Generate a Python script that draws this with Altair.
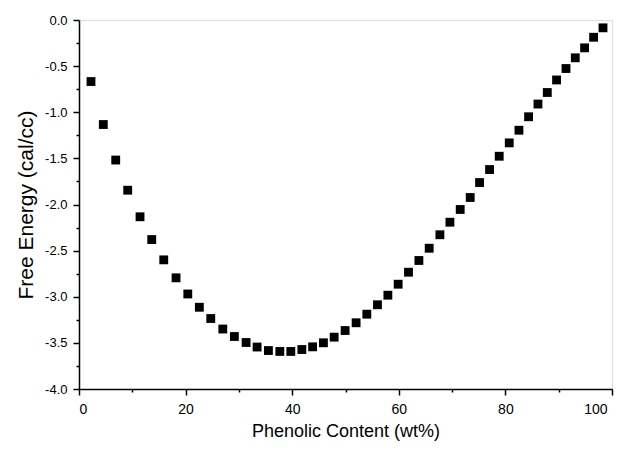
import altair as alt
import pandas as pd

phenolic_wt = [2.25, 4.56, 6.89, 9.14, 11.45, 13.65, 15.90, 18.21, 20.41, 22.58,
               24.72, 26.98, 29.15, 31.35, 33.41, 35.54, 37.68, 39.74, 41.81, 43.83,
               45.86, 47.87, 49.93, 51.99, 54.00, 56.00, 57.95, 59.88, 61.82, 63.77,
               65.70, 67.71, 69.59, 71.52, 73.40, 75.15, 77.03, 78.84, 80.72, 82.54,
               84.35, 86.11, 87.86, 89.60, 91.37, 93.11, 94.86, 96.55, 98.31]
free_energy = [-0.667, -1.133, -1.518, -1.845, -2.133, -2.380, -2.600, -2.795, -2.970, -3.114,
               -3.236, -3.350, -3.431, -3.496, -3.545, -3.583, -3.593, -3.593, -3.572, -3.543,
               -3.499, -3.438, -3.366, -3.282, -3.189, -3.087, -2.983, -2.864, -2.734, -2.607,
               -2.474, -2.328, -2.192, -2.054, -1.924, -1.762, -1.621, -1.477, -1.332, -1.195,
               -1.049, -0.911, -0.786, -0.650, -0.526, -0.410, -0.302, -0.187, -0.085]

x_major = [0, 20, 40, 60, 80, 100]
x_minor = [10, 30, 50, 70, 90]
y_major = [-4.0, -3.5, -3.0, -2.5, -2.0, -1.5, -1.0, -0.5, 0.0]
y_minor = [-3.75, -3.25, -2.75, -2.25, -1.75, -1.25, -0.75, -0.25]

df = pd.DataFrame({"x": phenolic_wt, "y": free_energy})

FONT = "Liberation Sans"
xscale = alt.Scale(domain=[0, 100], nice=False, zero=False)
yscale = alt.Scale(domain=[-4, 0], nice=False, zero=False)

main = alt.Chart(df).mark_square(size=78, color="black", opacity=1).encode(
    x=alt.X("x:Q", scale=xscale,
            axis=alt.Axis(title="Phenolic Content (wt%)", values=x_major, orient="bottom",
                          grid=False, domainColor="black", domainWidth=1.5,
                          tickColor="black", tickSize=6, tickWidth=1.5,
                          labelFont=FONT, labelFontSize=14, labelColor="black", labelPadding=7,
                          labelOffset={"condition": {"test": "datum.value == 100", "value": -5}, "value": 0},
                          titleFont=FONT, titleFontSize=18, titleFontWeight="normal",
                          titleColor="black", titlePadding=6)),
    y=alt.Y("y:Q", scale=yscale,
            axis=alt.Axis(title="Free Energy (cal/cc)", values=y_major, orient="left",
                          labelExpr="replace(format(datum.value, '.1f'), '\u2212', '-')",
                          grid=False, domainColor="black", domainWidth=1.5,
                          tickColor="black", tickSize=6, tickWidth=1.5,
                          labelFont=FONT, labelFontSize=13, labelColor="black", labelPadding=6,
                          titleFont=FONT, titleFontSize=21, titleFontWeight="normal",
                          titleColor="black", titlePadding=8)),
)

minor = alt.Chart(df).mark_point(opacity=0).encode(
    x=alt.X("x:Q", scale=xscale,
            axis=alt.Axis(title=None, values=x_minor, orient="bottom", labels=False,
                          domain=False, grid=False, tickColor="black", tickSize=3, tickWidth=1.5)),
    y=alt.Y("y:Q", scale=yscale,
            axis=alt.Axis(title=None, values=y_minor, orient="left", labels=False,
                          domain=False, grid=False, tickColor="black", tickSize=3, tickWidth=1.5)),
)

chart = alt.layer(main, minor).resolve_axis(x="independent", y="independent").properties(
    width=533, height=369,
    autosize=alt.AutoSizeParams(type="none"),
    padding={"left": 71, "top": 12, "right": 7, "bottom": 53},
).configure_view(stroke="black", strokeWidth=1.5).configure(background="white")

chart.save("out.html", embed_options={"renderer": "svg", "actions": False})
